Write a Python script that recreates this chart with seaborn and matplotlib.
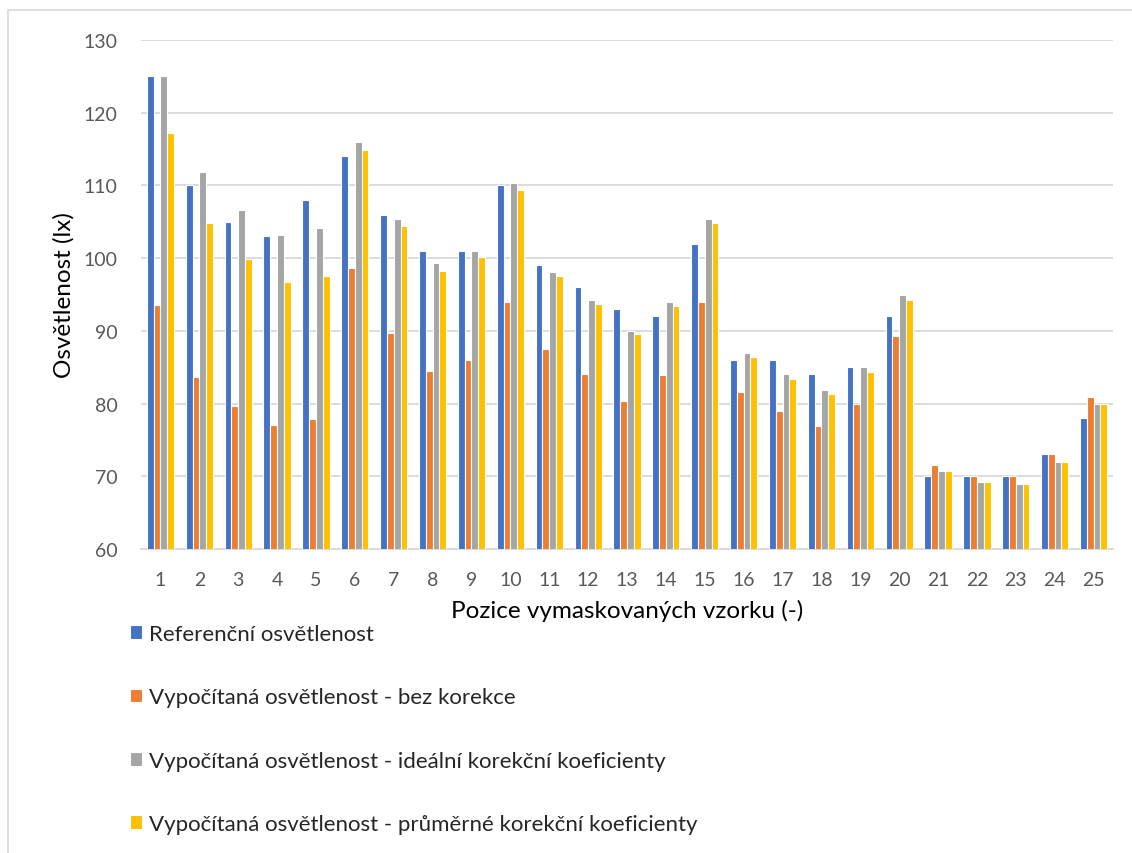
import pandas as pd
import seaborn as sns
import matplotlib.pyplot as plt
from matplotlib.lines import Line2D

# Values
positions = [str(i) for i in range(1, 26)]
series_names = [
    "Referenční osvětlenost",
    "Vypočítaná osvětlenost - bez korekce",
    "Vypočítaná osvětlenost - ideální korekční koeficienty",
    "Vypočítaná osvětlenost - průměrné korekční koeficienty",
]
referencni = [125, 110, 105, 103, 108, 114, 106, 101, 101, 110, 99, 96, 93,
              92, 102, 86, 86, 84, 85, 92, 70, 70, 70, 73, 78]
bez_korekce = [93.5, 83.7, 79.7, 77.1, 77.9, 98.6, 89.7, 84.5, 86.0, 93.9, 87.5,
               84.1, 80.3, 83.9, 94.0, 81.6, 79.0, 76.9, 80.0, 89.3, 71.6, 70.1,
               70.0, 73.0, 80.9]
idealni = [125.1, 111.9, 106.6, 103.2, 104.1, 116.0, 105.4, 99.3, 101.0, 110.4,
           98.1, 94.2, 90.0, 94.0, 105.4, 86.9, 84.0, 81.9, 85.0, 94.9, 70.7,
           69.2, 69.0, 72.0, 80.0]
prumerne = [117.2, 104.9, 99.9, 96.7, 97.5, 114.9, 104.4, 98.3, 100.1, 109.35,
            97.5, 93.7, 89.5, 93.4, 104.8, 86.4, 83.4, 81.3, 84.4, 94.3, 70.7,
            69.2, 69.0, 72.0, 80.0]
colors = ["#4472C4", "#ED7D31", "#A5A5A5", "#FFC000"]

rows = []
for name, vals in zip(series_names, [referencni, bez_korekce, idealni, prumerne]):
    for p, v in zip(positions, vals):
        rows.append({"pozice": p, "serie": name, "hodnota": v})
df = pd.DataFrame(rows)

sns.set_style("white")
plt.rcParams['font.family'] = ['Lato', 'DejaVu Sans']

fig = plt.figure(figsize=(11.32, 8.54), dpi=100)
ax = fig.add_axes([141 / 1132, 1 - 550 / 854, 972 / 1132, 509 / 854])

sns.barplot(data=df, x="pozice", y="hodnota", hue="serie", order=positions,
            hue_order=series_names, palette=colors, saturation=1, width=0.7,
            edgecolor="white", linewidth=0.8, ax=ax, zorder=3)

ax.set_ylim(60, 130)
ax.set_xlim(-0.5, 24.5)
ax.set_yticks(range(60, 131, 10))
ax.grid(axis="y", color="#D9D9D9", linewidth=1.3, zorder=0)
ax.set_axisbelow(True)
for s in ["top", "right", "left"]:
    ax.spines[s].set_visible(False)
ax.spines["bottom"].set_color("#D9D9D9")
ax.spines["bottom"].set_linewidth(1.3)
ax.tick_params(axis="both", length=0, labelsize=14, labelcolor="#595959")
ax.tick_params(axis="y", pad=17)
ax.tick_params(axis="x", pad=16)

ax.set_xlabel("Pozice vymaskovaných vzorku (-)", fontsize=17.5, color="black", labelpad=8)
ax.set_ylabel("Osvětlenost (lx)", fontsize=17.5, color="black", labelpad=6)

ax.legend(loc="upper left", bbox_to_anchor=(130 / 1132, 1 - 625 / 854),
          bbox_transform=fig.transFigure, frameon=False, fontsize=16,
          labelspacing=1.95, handlelength=0.55, handleheight=0.55,
          handletextpad=0.3, borderaxespad=0, borderpad=0)

# light frame around the chart area (left and top edges visible)
fig.add_artist(Line2D([8 / 1132, 8 / 1132], [0, 1 - 11 / 854],
                      transform=fig.transFigure, color="#D9D9D9", linewidth=1.2))
fig.add_artist(Line2D([8 / 1132, 1], [1 - 11 / 854, 1 - 11 / 854],
                      transform=fig.transFigure, color="#D9D9D9", linewidth=1.2))

fig.savefig("out.png", dpi=100, facecolor="white")
